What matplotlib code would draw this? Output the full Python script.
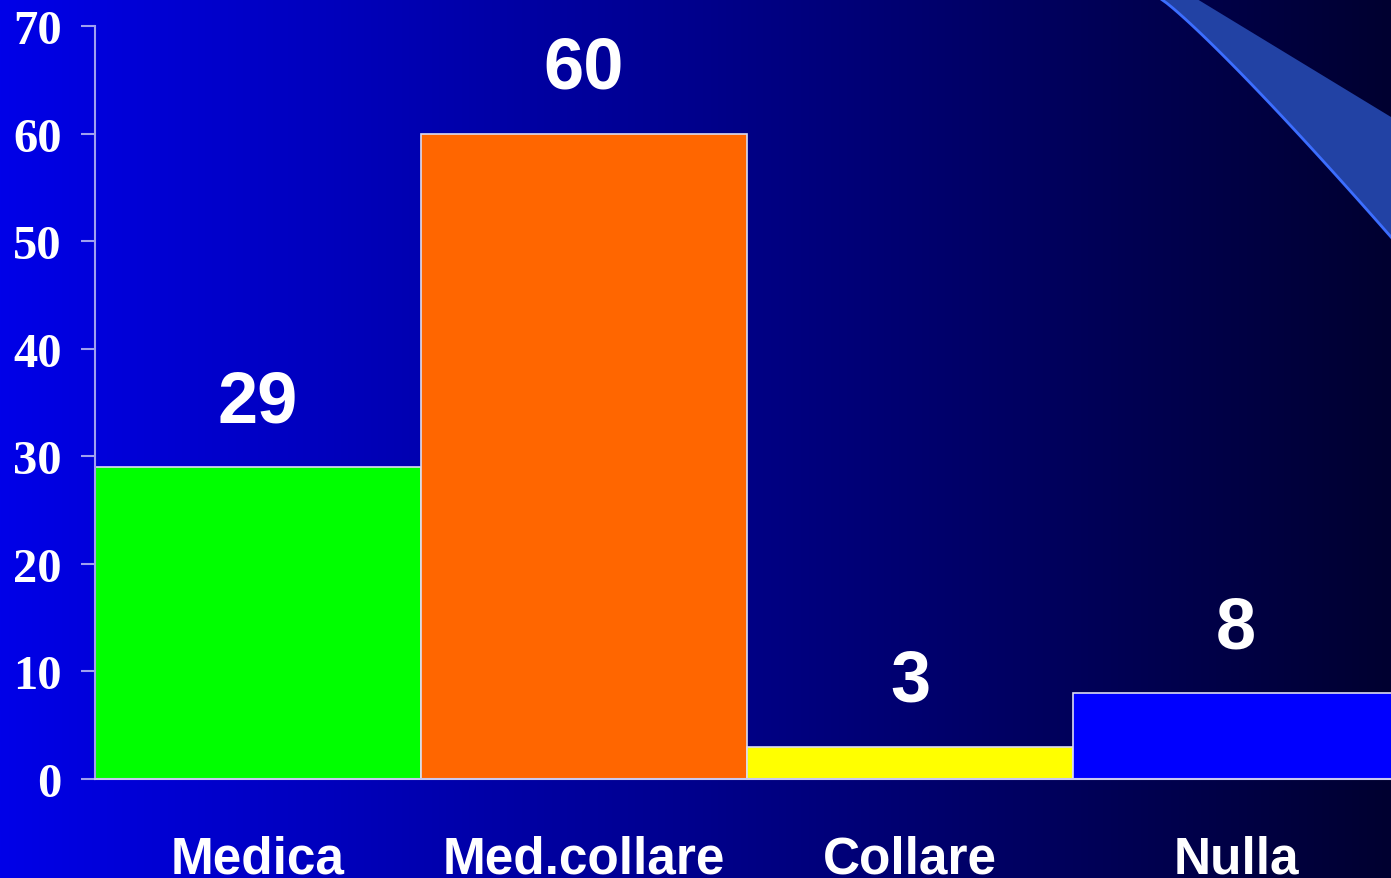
import numpy as np
import matplotlib.pyplot as plt
from matplotlib.patches import Polygon

categories = ['Medica', 'Med.collare', 'Collare', 'Nulla']
values = [29, 60, 3, 8]
bar_colors = ['#00ff00', '#ff6600', '#ffff00', '#0000ff']
yticks = [0, 10, 20, 30, 40, 50, 60, 70]

W, H = 1391, 879
fig = plt.figure(figsize=(W / 100, H / 100), dpi=100)

# background: horizontal blue gradient over the whole figure
bg = fig.add_axes([0, 0, 1, 1])
grad = np.linspace(0, 1, 512)
c0 = np.array([0, 0, 232]) / 255
c1 = np.array([0, 0, 48]) / 255
img = c0[None, None, :] * (1 - grad)[None, :, None] + c1[None, None, :] * grad[None, :, None]
bg.imshow(img, aspect='auto', extent=[0, W, H, 0])
bg.set_xlim(0, W)
bg.set_ylim(H, 0)
bg.axis('off')

# swoosh decoration in the top right corner
t = np.linspace(0, 1, 40)
curve_x = 1161 + (1391 - 1161) * t
curve_y = 238 * (t ** 1.1)
upper = [(1391, 118), (1197, 0)]
pts = list(zip(curve_x, curve_y)) + upper
bg.add_patch(Polygon(pts, closed=True, facecolor='#2242a4', edgecolor='none'))
bg.plot(curve_x, curve_y, color='#3c6eff', lw=2)

ax = fig.add_axes([95 / W, (H - 780) / H, 1304 / W, 753 / H])
ax.patch.set_alpha(0)
x = np.arange(len(categories))
ax.bar(x, values, width=1.0, color=bar_colors, edgecolor='#dcdcf0', linewidth=1.2)
ax.set_xlim(-0.5, 3.5)
ax.set_ylim(0, 70)

for xi, v in zip(x, values):
    ax.annotate(str(v), (xi, v), xytext=(0, 33), textcoords='offset points',
                ha='center', va='baseline', color='white',
                fontsize=52, fontweight='bold', family='Liberation Sans')

ax.set_yticks(yticks)
ax.set_yticklabels([str(v) for v in yticks], family='Liberation Serif',
                   fontweight='bold', fontsize=35, color='white')
ax.tick_params(axis='y', length=10, width=1.5, color='#a0a0f0', pad=14)
ax.set_xticks(x)
ax.set_xticklabels(categories, family='Liberation Sans', fontweight='bold',
                   fontsize=37, color='white')
ax.tick_params(axis='x', length=0, pad=40)

for side in ['top', 'right']:
    ax.spines[side].set_visible(False)
ax.spines['left'].set_color('#a0a0f0')
ax.spines['left'].set_linewidth(1.5)
ax.spines['bottom'].set_color('#c8c8f0')
ax.spines['bottom'].set_linewidth(1.5)

fig.savefig('out.png', dpi=100)
